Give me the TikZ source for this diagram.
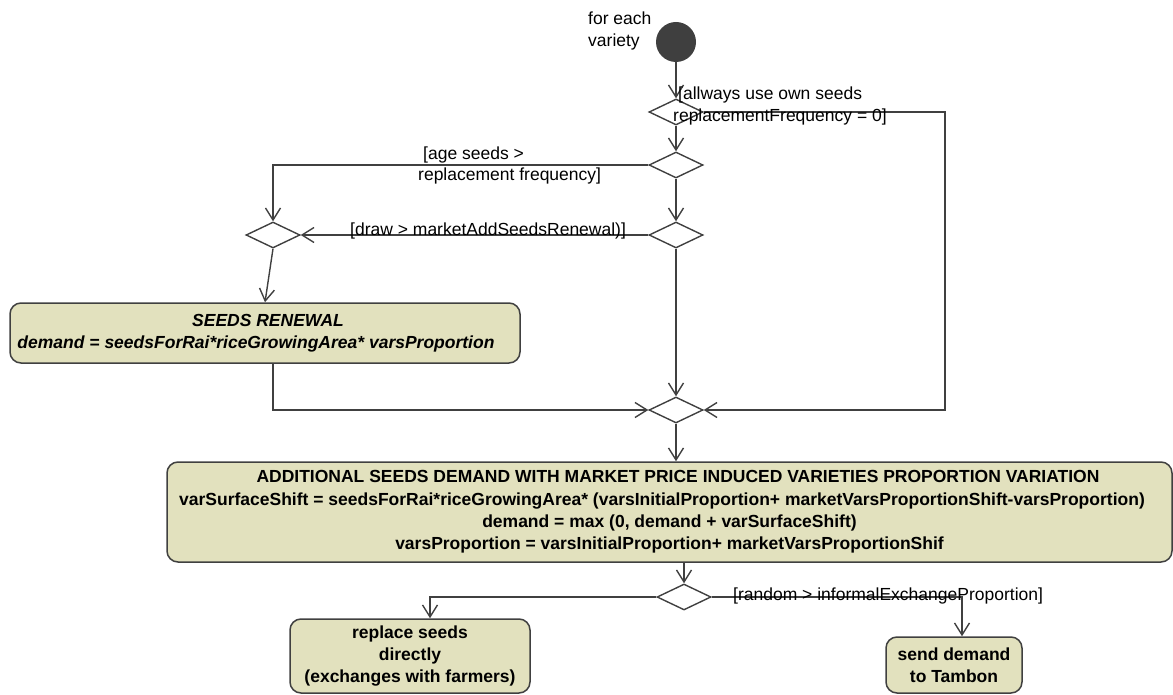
\documentclass[tikz,border=0pt]{standalone}
\usepackage{fontspec}
\setmainfont{Liberation Sans}
\usetikzlibrary{arrows.meta,shapes.geometric}
\definecolor{boxfill}{RGB}{226,225,190}
\definecolor{ln}{RGB}{64,64,64}
\definecolor{startc}{RGB}{63,63,63}
\begin{document}
\begin{tikzpicture}[x=1pt,y=-1pt,
 flow/.style={draw=ln,line width=1.4pt,-{Straight Barb[length=12pt,width=15pt]}},
 dec/.style={diamond,draw=ln,line width=1.4pt,fill=white,minimum width=54pt,minimum height=26pt,inner sep=0pt},
 act/.style={rectangle,rounded corners=11pt,draw=ln,line width=1.5pt,fill=boxfill,align=center,
   font=\fontsize{17.5}{22.3}\selectfont\bfseries,inner sep=0pt},
 lbl/.style={font=\fontsize{17.5}{21.5}\selectfont,inner sep=0pt,align=left},
]
\useasboundingbox (0,0) rectangle (1173,695);

% start and decisions
\node[circle,fill=startc,minimum size=40pt,inner sep=0pt] (start) at (676,42) {};
\node[dec] (d1) at (676,112) {};
\node[dec] (d2) at (676,165) {};
\node[dec] (d3) at (676,235) {};
\node[dec] (d4) at (273,235) {};
\node[dec] (m) at (676,410) {};
\node[dec] (d5) at (684,597) {};

% activities
\node[act,font=\fontsize{17.5}{22.3}\selectfont\bfseries\itshape,minimum width=510pt,minimum height=60pt] (sr) at (265,333)
 {\kern6pt SEEDS RENEWAL\\demand = seedsForRai*riceGrowingArea* varsProportion\kern18pt};
\node[act,minimum width=1005pt,minimum height=100pt] (add) at (669.5,512)
 {\kern17pt ADDITIONAL SEEDS DEMAND WITH MARKET PRICE INDUCED VARIETIES PROPORTION VARIATION\\
  varSurfaceShift = seedsForRai*riceGrowingArea* (varsInitialProportion+ marketVarsProportionShift-varsProportion)\kern15pt\\
  demand = max (0, demand + varSurfaceShift)\\
  varsProportion = varsInitialProportion+ marketVarsProportionShif};
\node[act,minimum width=240pt,minimum height=74pt] (rep) at (410,656)
 {replace seeds\\directly\\(exchanges with farmers)};
\node[act,minimum width=136pt,minimum height=56pt] (send) at (954,665)
 {send demand\\to Tambon};

% coordinates for bends
\coordinate (rr) at (945,112);
\coordinate (sl) at (273,410);
\coordinate (lc) at (430,597);
\coordinate (rc) at (962,597);

% connectors
\draw[flow] (start) -- (d1.north);
\draw[flow] (d1.south) -- (d2.north);
\draw[flow] (d2.south) -- (d3.north);
\draw[flow] (d3.south) -- (m.north);
\draw[flow] (d1.east) -- (rr) |- (m.east);
\draw[flow] (d2.west) -| (d4.north);
\draw[flow] (d3.west) -- (d4.east);
\draw[flow] (d4.south) -- (sr.north);
\draw[flow] (sl |- sr.south) -- (sl) -- (m.west);
\draw[flow] (m.south) -- (m.south |- add.north);
\draw[flow] (d5.north |- add.south) -- (d5.north);
\draw[flow] (d5.west) -- (lc) -- (lc |- rep.north);
\draw[flow] (d5.east) -- (rc) -- (rc |- send.north);

% labels
\node[lbl,anchor=west] (l0) at (588,31) {for each\\variety};
\node[lbl,anchor=west] (l1) at (673,106) {\kern5pt[allways use own seeds\\replacementFrequency = 0]};
\node[lbl,anchor=west] (l2) at (418,165.5) {\kern5pt[age seeds >\\replacement frequency]};
\node[lbl,anchor=west] (l3) at (350,231) {[draw > marketAddSeedsRenewal)]};
\node[lbl,anchor=west] (l4) at (733,596) {[random > informalExchangeProportion]};
\end{tikzpicture}
\end{document}
